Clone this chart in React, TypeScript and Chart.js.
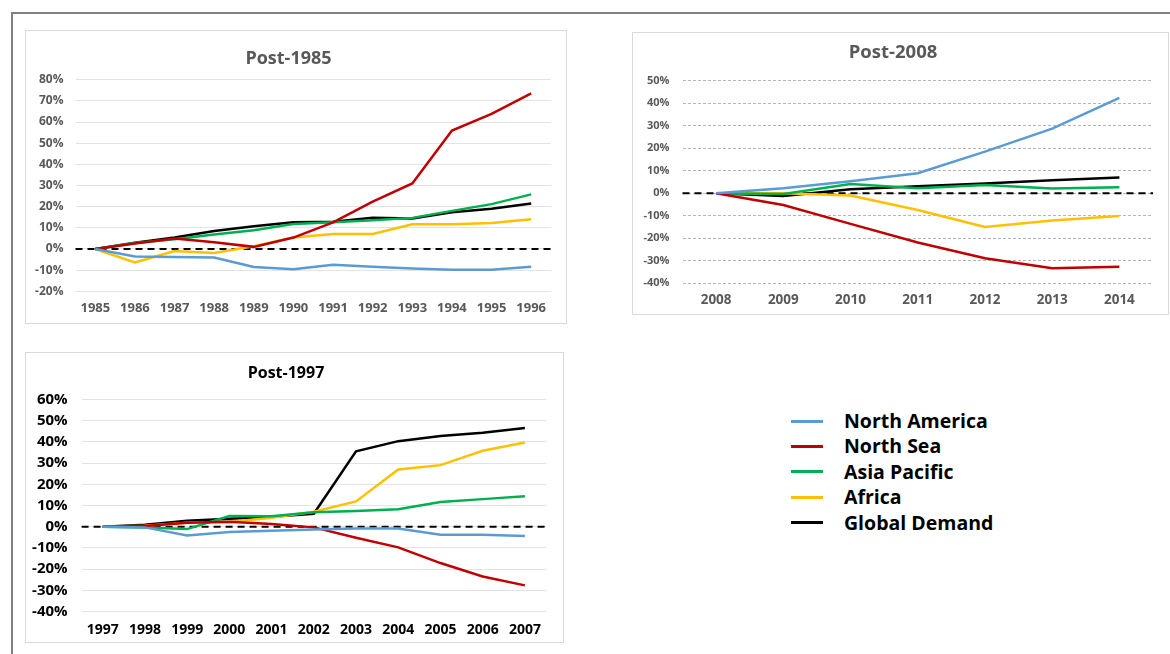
import React, { useEffect, useRef } from "react";
import { Chart, registerables } from "chart.js";

Chart.register(...registerables);

// ---------- Data ----------
const seriesNames = ["North America", "North Sea", "Asia Pacific", "Africa", "Global Demand"];
const seriesColors = ["#5b9bd5", "#c00000", "#00b050", "#ffc000", "#000000"];

const years1985 = ["1985", "1986", "1987", "1988", "1989", "1990", "1991", "1992", "1993", "1994", "1995", "1996"];
const northAmerica1985 = [0, -3.5, -3.8, -4, -8.5, -9.6, -7.4, -8.4, -9.2, -9.8, -9.8, -8.4];
const northSea1985 = [0, 2.6, 5, 3.2, 1, 5.4, 12.6, 22.4, 31, 56, 63.8, 73.5];
const asiaPacific1985 = [0, 2.8, 4.6, 6.8, 8.9, 11.8, 12.6, 13.6, 14.7, 18, 21.2, 25.8];
const africa1985 = [0, -6.4, -1, -1.9, 1.3, 5.4, 7.1, 7.1, 11.7, 11.7, 12.3, 14.1];
const globalDemand1985 = [0, 2.9, 5.4, 8.5, 10.7, 12.6, 12.9, 14.7, 14.4, 17.4, 19, 21.5];

const years1997 = ["1997", "1998", "1999", "2000", "2001", "2002", "2003", "2004", "2005", "2006", "2007"];
const northAmerica1997 = [0, -0.3, -4.1, -2.5, -1.9, -1.3, -0.8, -0.8, -3.8, -3.8, -4.4];
const northSea1997 = [0, 0.3, 1.9, 2.4, 1.3, -0.3, -5.2, -9.7, -17.1, -23.4, -27.6];
const asiaPacific1997 = [0, -0.3, -1.1, 5, 4.9, 6.8, 7.4, 8.2, 11.6, 13, 14.4];
const africa1997 = [0, 0.5, 1.9, 2.2, 4.2, 7.1, 11.9, 27, 29, 35.8, 39.7];
const globalDemand1997 = [0, 0.9, 2.8, 3.8, 4.7, 6.1, 35.5, 40.3, 42.7, 44.3, 46.5];

const years2008 = ["2008", "2009", "2010", "2011", "2012", "2013", "2014"];
const northAmerica2008 = [0, 2.2, 5.3, 8.9, 18.5, 28.7, 42.4];
const northSea2008 = [0, -5.2, -13.6, -21.9, -28.9, -33.3, -32.6];
const asiaPacific2008 = [0, -0.3, 4.1, 2.2, 3.7, 2.1, 2.7];
const africa2008 = [0, 0, -1, -7.4, -15, -12.1, -10.1];
const globalDemand2008 = [0, -1.2, 1.8, 3.1, 4.3, 5.8, 7];

const yTicks1985 = { min: -20, max: 80, step: 10 };
const yTicks1997 = { min: -40, max: 60, step: 10 };
const yTicks2008 = { min: -40, max: 50, step: 10 };

// ---------- Chart helpers ----------
const zeroLinePlugin = {
  id: "zeroLine",
  beforeDatasetsDraw(chart: any) {
    const y = chart.scales.y;
    const area = chart.chartArea;
    const py = y.getPixelForValue(0);
    const ctx = chart.ctx;
    ctx.save();
    ctx.strokeStyle = "#000000";
    ctx.lineWidth = 2;
    ctx.setLineDash([7, 5]);
    ctx.beginPath();
    ctx.moveTo(area.left, py);
    ctx.lineTo(area.right, py);
    ctx.stroke();
    ctx.restore();
  },
};

type PanelCfg = {
  title: string;
  labels: string[];
  values: number[][];
  ticks: { min: number; max: number; step: number };
  titleSize: number;
  titleColor: string;
  titlePadTop: number;
  titlePadBottom: number;
  tickColor: string;
  yFont: number;
  xFont: number;
  yWidth: number;
  yPad: number;
  xHeight: number;
  xPad: number;
  padRight: number;
  gridColor: string;
  gridDash: number[];
  gridWidth: number;
};

function ChartPanel({ cfg, style }: { cfg: PanelCfg; style: React.CSSProperties }) {
  const ref = useRef<HTMLCanvasElement>(null);
  useEffect(() => {
    if (!ref.current) return;
    const chart = new Chart(ref.current, {
      type: "line",
      data: {
        labels: cfg.labels,
        datasets: cfg.values.map((v, i) => ({
          label: seriesNames[i],
          data: v,
          borderColor: seriesColors[i],
          backgroundColor: seriesColors[i],
          borderWidth: 2.5,
          pointRadius: 0,
          tension: 0,
        })),
      },
      options: {
        animation: false,
        responsive: true,
        maintainAspectRatio: false,
        layout: { padding: { top: 0, left: 0, right: cfg.padRight, bottom: 0 } },
        plugins: {
          legend: { display: false },
          tooltip: { enabled: false },
          title: {
            display: true,
            text: cfg.title,
            color: cfg.titleColor,
            font: { family: "'Open Sans', sans-serif", size: cfg.titleSize, weight: "bold", lineHeight: 1.2 },
            padding: { top: cfg.titlePadTop, bottom: cfg.titlePadBottom },
          },
        },
        scales: {
          x: {
            type: "category",
            offset: true,
            grid: { display: false, drawTicks: false },
            border: { display: false },
            ticks: {
              color: cfg.tickColor,
              padding: cfg.xPad,
              maxRotation: 0,
              autoSkip: false,
              font: { family: "'Open Sans', sans-serif", size: cfg.xFont, weight: "bold", lineHeight: 1.2 },
            },
            afterFit: (s: any) => {
              s.height = cfg.xHeight;
            },
          },
          y: {
            min: cfg.ticks.min,
            max: cfg.ticks.max,
            grid: { color: cfg.gridColor, lineWidth: cfg.gridWidth, drawTicks: false },
            border: { display: false, dash: cfg.gridDash },
            ticks: {
              stepSize: cfg.ticks.step,
              color: cfg.tickColor,
              padding: cfg.yPad,
              font: { family: "'Open Sans', sans-serif", size: cfg.yFont, weight: "bold", lineHeight: 1.2 },
              callback: (v: any) => `${v}%`,
            },
            afterFit: (s: any) => {
              s.width = cfg.yWidth;
            },
          },
        },
      } as any,
      plugins: [zeroLinePlugin],
    });
    return () => chart.destroy();
  }, [cfg]);
  return (
    <div style={{ position: "absolute", boxSizing: "border-box", border: "1px solid #d9d9d9", background: "#fff", ...style }}>
      <canvas ref={ref} />
    </div>
  );
}

const cfg1985: PanelCfg = {
  title: "Post-1985",
  labels: years1985,
  values: [northAmerica1985, northSea1985, asiaPacific1985, africa1985, globalDemand1985],
  ticks: yTicks1985,
  titleSize: 18,
  titleColor: "#595959",
  titlePadTop: 17.2,
  titlePadBottom: 9.9,
  tickColor: "#595959",
  yFont: 12,
  xFont: 13,
  yWidth: 49.5,
  yPad: 12,
  xHeight: 31.7,
  xPad: 9.5,
  padRight: 15,
  gridColor: "#e3e3e3",
  gridDash: [],
  gridWidth: 1,
};

const cfg2008: PanelCfg = {
  title: "Post-2008",
  labels: years2008,
  values: [northAmerica2008, northSea2008, asiaPacific2008, africa2008, globalDemand2008],
  ticks: yTicks2008,
  titleSize: 18.5,
  titleColor: "#595959",
  titlePadTop: 8.9,
  titlePadBottom: 16.6,
  tickColor: "#595959",
  yFont: 11,
  xFont: 13.5,
  yWidth: 49.5,
  yPad: 13,
  xHeight: 30.7,
  xPad: 8.6,
  padRight: 15,
  gridColor: "#b5b5b5",
  gridDash: [3, 2],
  gridWidth: 1,
};

const cfg1997: PanelCfg = {
  title: "Post-1997",
  labels: years1997,
  values: [northAmerica1997, northSea1997, asiaPacific1997, africa1997, globalDemand1997],
  ticks: yTicks1997,
  titleSize: 16,
  titleColor: "#000000",
  titlePadTop: 10.4,
  titlePadBottom: 16.7,
  tickColor: "#000000",
  yFont: 15,
  xFont: 14,
  yWidth: 55.6,
  yPad: 14,
  xHeight: 30.3,
  xPad: 9.9,
  padRight: 17,
  gridColor: "#e3e3e3",
  gridDash: [],
  gridWidth: 1,
};

const legendTop = [421, 446, 471.5, 497, 522.5];

export default function App() {
  return (
    <div style={{ position: "absolute", left: 0, top: 0, width: 1170, height: 654, overflow: "hidden", background: "#fff" }}>
      <div
        style={{
          position: "absolute",
          left: 11,
          top: 12,
          width: 1300,
          height: 800,
          borderLeft: "2px solid #808080",
          borderTop: "2px solid #808080",
        }}
      />
      <ChartPanel cfg={cfg1985} style={{ left: 25, top: 30, width: 542, height: 294 }} />
      <ChartPanel cfg={cfg2008} style={{ left: 632, top: 32, width: 537, height: 283 }} />
      <ChartPanel cfg={cfg1997} style={{ left: 25, top: 352, width: 539, height: 291 }} />
      {seriesNames.map((name, i) => (
        <div key={name}>
          <div
            style={{
              position: "absolute",
              left: 791,
              top: legendTop[i] - 1.5,
              width: 32,
              height: 3,
              background: seriesColors[i],
            }}
          />
          <div
            style={{
              position: "absolute",
              left: 844,
              top: legendTop[i] - 13,
              height: 26,
              lineHeight: "26px",
              fontFamily: "'Open Sans', sans-serif",
              fontWeight: 700,
              fontSize: 19.5,
              color: "#000",
              whiteSpace: "nowrap",
            }}
          >
            {name}
          </div>
        </div>
      ))}
    </div>
  );
}
